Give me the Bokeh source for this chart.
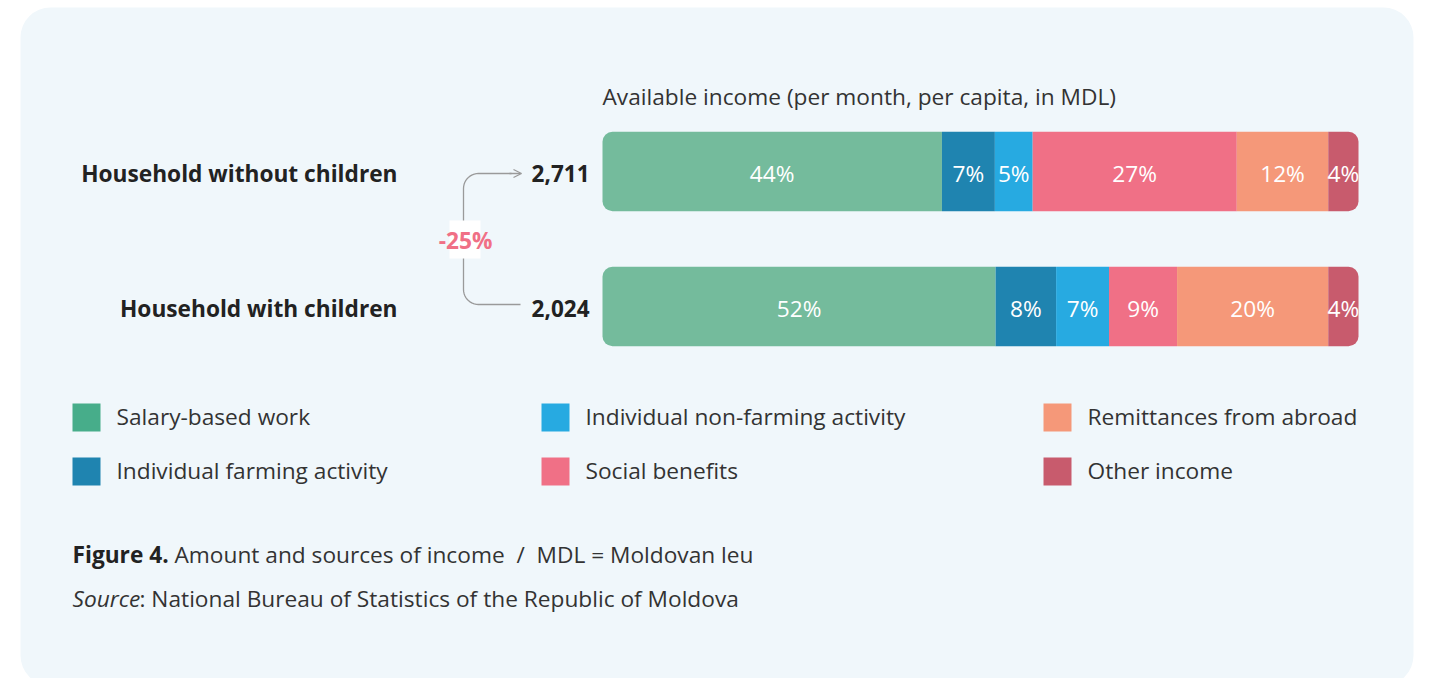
import numpy as np
from bokeh.plotting import figure
from bokeh.models import Range1d, Arrow, OpenHead, ColumnDataSource
from bokeh.core.properties import value
from bokeh.embed import file_html
from bokeh.resources import INLINE

# ---------------- data ----------------
households = ["Household without children", "Household with children"]
totals = [2711, 2024]
sources = ["Salary-based work", "Individual farming activity",
           "Individual non-farming activity", "Social benefits",
           "Remittances from abroad", "Other income"]
share_without = [44.9, 7.0, 5.0, 27.0, 12.1, 4.0]
share_with = [52.0, 8.0, 7.0, 9.0, 20.0, 4.0]
labels_without = ["44%", "7%", "5%", "27%", "12%", "4%"]
labels_with = ["52%", "8%", "7%", "9%", "20%", "4%"]
bar_colors = ["#74BB9C", "#1F84B0", "#27AAE1", "#F07086", "#F59879", "#C85B6D"]
legend_colors = ["#47AD8A", "#1F84B0", "#27AAE1", "#F07086", "#F59879", "#C85B6D"]
title_text = "Available income (per month, per capita, in MDL)"
caption_bold = "Figure 4."
caption_rest = "Amount and sources of income \u00a0/\u00a0 MDL = Moldovan leu"
source_italic = "Source"
source_rest = ": National Bureau of Statistics of the Republic of Moldova"

# ---------------- layout ----------------
FONT = value("Open Sans")
FS = "22.7px"
W, H = 1421, 678
OX, OY = 0, 0
BAR_X0, BAR_X1 = 602, 1358
ROW_Y = [171, 306]
BAR_H = 79.5
DARK = "#222222"
TEXT = "#333333"
PANEL = "#F0F7FB"

pct_per_px = 100.0 / (BAR_X1 - BAR_X0)
pct_start = (OX - BAR_X0) * pct_per_px
pct_end = (OX + W - BAR_X0) * pct_per_px

p = figure(width=W, height=H, output_backend="svg", toolbar_location=None,
           x_range=Range1d(OX, OX + W), y_range=Range1d(OY + H, OY),
           x_axis_type=None, y_axis_type=None, min_border=0,
           background_fill_color="white", border_fill_color="white",
           outline_line_color=None)
p.extra_x_ranges = {"pct": Range1d(pct_start, pct_end)}
p.xgrid.visible = False
p.ygrid.visible = False

# panel
p.quad(left=20, right=1413, top=7, bottom=685, fill_color=PANEL,
       line_color=None, border_radius=30)

# bars
shares = [share_without, share_with]
labels = [labels_without, labels_with]
groups = {"first": dict(y=[], left=[], right=[], color=[]),
          "mid": dict(y=[], left=[], right=[], color=[]),
          "last": dict(y=[], left=[], right=[], color=[])}
lab = dict(x=[], y=[], text=[])
n = len(sources)
for r, (vals, labs) in enumerate(zip(shares, labels)):
    edges = np.concatenate([[0], np.cumsum(vals)])
    for i in range(n):
        g = "first" if i == 0 else ("last" if i == n - 1 else "mid")
        groups[g]["y"].append(ROW_Y[r])
        groups[g]["left"].append(edges[i])
        groups[g]["right"].append(edges[i + 1])
        groups[g]["color"].append(bar_colors[i])
        lab["x"].append((edges[i] + edges[i + 1]) / 2)
        lab["y"].append(ROW_Y[r] + 2)
        lab["text"].append(labs[i])

radii = {"first": (10, 0, 0, 10), "mid": 0, "last": (0, 10, 10, 0)}
for g, d in groups.items():
    p.hbar(y="y", left="left", right="right", height=BAR_H, fill_color="color",
           line_color=None, source=ColumnDataSource(d), x_range_name="pct",
           border_radius=radii[g])

p.text(x="x", y="y", text="text", source=ColumnDataSource(lab), x_range_name="pct",
       text_align="center", text_baseline="middle", text_color="white",
       text_font=FONT, text_font_size=FS)

# title
p.text(x=[BAR_X0], y=[96], text=[title_text], text_align="left",
       text_baseline="middle", text_color=TEXT, text_font=FONT,
       text_font_size=FS)

# household labels
p.text(x=[397, 397], y=[y + 2 for y in ROW_Y], text=households, text_align="right",
       text_baseline="middle", text_color=DARK, text_font=FONT,
       text_font_size=FS, text_font_style="bold")

# totals
p.text(x=[589, 589], y=[y + 2 for y in ROW_Y], text=[f"{t:,}" for t in totals],
       text_align="right", text_baseline="middle", text_color=DARK,
       text_font=FONT, text_font_size="22.5px", text_font_style="bold")

# bracket
bx, by0, by1, bend, rad = 463, 173, 304, 521, 15
t = np.linspace(0, np.pi / 2, 12)
xs = [bend - 10]
ys = [by0]
xs += list(bx + rad - rad * np.sin(t))
ys += list(by0 + rad - rad * np.cos(t))
xs += list(bx + rad - rad * np.cos(t))
ys += list(by1 - rad + rad * np.sin(t))
xs += [bend - 1]
ys += [by1]
p.line(xs, ys, line_color="#9A9A9A", line_width=1.3)
p.add_layout(Arrow(end=OpenHead(size=8, line_color="#9A9A9A", line_width=1.3),
                   x_start=bend - 12, y_start=by0, x_end=bend, y_end=by0,
                   line_color="#9A9A9A", line_width=1.3))
change = (totals[1] - totals[0]) / totals[0] * 100
p.quad(left=449, right=480, top=220, bottom=258, fill_color="white", line_color=None)
p.text(x=[465], y=[240], text=[f"{change:.0f}%"], text_align="center",
       text_baseline="middle", text_color="#F07086", text_font=FONT,
       text_font_size=FS, text_font_style="bold")

# legend
col_x = [72, 541, 1043]
row_y = [417, 471]
lx, ly = [], []
for i in range(n):
    lx.append(col_x[i // 2])
    ly.append(row_y[i % 2])
p.rect(x=[x + 14 for x in lx], y=ly, width=28, height=28,
       fill_color=legend_colors, line_color=None)
p.text(x=[x + 44 for x in lx], y=[y - 1 for y in ly], text=sources,
       text_align="left", text_baseline="middle", text_color=TEXT,
       text_font=FONT, text_font_size=FS)

# caption
p.text(x=[72], y=[554], text=[caption_bold], text_align="left",
       text_baseline="middle", text_color=DARK, text_font=FONT,
       text_font_size=FS, text_font_style="bold")
p.text(x=[174], y=[554], text=[caption_rest], text_align="left",
       text_baseline="middle", text_color=TEXT, text_font=FONT,
       text_font_size=FS)
p.text(x=[72], y=[598], text=[source_italic], text_align="left",
       text_baseline="middle", text_color=TEXT, text_font=FONT,
       text_font_size=FS, text_font_style="italic")
p.text(x=[139], y=[598], text=[source_rest], text_align="left",
       text_baseline="middle", text_color=TEXT, text_font=FONT,
       text_font_size=FS)

open("out.html", "w").write(file_html(p, INLINE))
